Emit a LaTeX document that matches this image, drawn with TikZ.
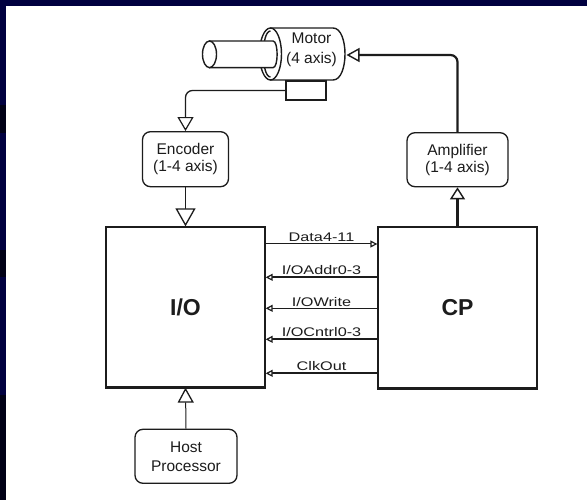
\documentclass[tikz,border=0pt]{standalone}
\usepackage{fontspec}
\setmainfont{Liberation Sans}
\newfontfamily\sigfont[FakeStretch=1.3]{Liberation Sans}
\usetikzlibrary{arrows.meta}

\definecolor{slidenavy}{RGB}{0,0,64}
\definecolor{slidedark}{RGB}{0,0,22}
\definecolor{ink}{RGB}{28,28,28}

\tikzset{
  unit/.style={draw=ink, line width=1.3pt, fill=white, inner sep=0pt,
               minimum width=159pt, minimum height=160pt,
               font=\fontsize{23}{26}\selectfont\bfseries, text=ink},
  roundbox/.style={draw=ink, line width=1.3pt, fill=white, rounded corners=8pt,
               inner sep=0pt, align=center, text=ink,
               font=\fontsize{15.5}{17}\selectfont},
  part/.style={draw=ink, line width=1.4pt, fill=white},
  thinwire/.style={draw=ink, line width=1pt},
  thickwire/.style={draw=ink, line width=2.2pt},
  bigtip/.style={-{Triangle[open, fill=white, length=#1]}},
  sigtip/.style={-{Triangle[open, fill=white, length=7pt, width=7pt, line width=1.2pt]}},
  siglabel/.style={midway, above, inner sep=1.5pt, text=ink,
               font=\sigfont\fontsize{12.5}{14}\selectfont}
}

\begin{document}
\begin{tikzpicture}[x=1pt, y=-1pt]
  % slide frame
  \useasboundingbox (0,0) rectangle (587,500);
  \fill[white] (0,0) rectangle (587,500);
  \fill[slidenavy] (0,0) rectangle (587,6);
  \fill[slidenavy] (0,0) rectangle (6,500);
  \fill[slidedark] (0,105) rectangle (6,133);
  \fill[slidedark] (0,250) rectangle (6,277);
  \fill[slidedark] (0,395) rectangle (6,500);

  % motor body, front face and shaft
  \filldraw[part] (270.5,28) -- (333,28)
     .. controls (349,28) and (349,80) .. (333,80) -- (270.5,80) -- cycle;
  \filldraw[part] (270.5,54) ellipse [x radius=11, y radius=26];
  \draw[part, fill=none] (270.5,31) .. controls (261,31) and (261,77) .. (270.5,77);
  \filldraw[part] (209.5,41) -- (273,41)
     .. controls (278.5,41) and (278.5,67.7) .. (273,67.7) -- (209.5,67.7) -- cycle;
  \filldraw[part] (209.5,54.3) ellipse [x radius=7, y radius=13.3];
  \node[text=ink, align=center, inner sep=0pt,
        font=\fontsize{15.5}{20}\selectfont] (motor) at (311.5,50) {Motor\\(4 axis)};
  \coordinate (motorin) at (346.5,55);

  % encoder sensor on the motor
  \node[part, minimum width=40pt, minimum height=19pt, inner sep=0pt] (sensor) at (306,90.5) {};

  % blocks
  \node[unit] (io) at (185.5,307) {I/O};
  \node[unit, minimum height=161pt] (cp) at (457.5,307.5) {CP};
  \node[roundbox, minimum width=86pt, minimum height=55pt] (enc) at (185.5,159.2) {Encoder\\(1-4 axis)};
  \node[roundbox, minimum width=101pt, minimum height=54pt] (amp) at (457.5,159.7) {Amplifier\\(1-4 axis)};
  \node[roundbox, minimum width=102pt, minimum height=54pt, font=\fontsize{15.5}{19}\selectfont] (host) at (186,456.3) {Host\\Processor};

  % feedback and drive paths
  \draw[thinwire, line width=1.3pt, rounded corners=7pt,
        -{Triangle[open, fill=white, length=14pt, width=16pt, line width=1.2pt]}]
        (sensor.west) -| (enc.north);
  \draw[thickwire, rounded corners=7pt,
        -{Triangle[open, fill=white, length=13pt, width=14pt, line width=1.4pt]}]
        (amp.north) |- (motorin);
  \draw[thickwire,
        -{Triangle[open, fill=white, length=12pt, width=15pt, line width=1.4pt]}]
        (cp.north) -- (amp.south);
  \draw[thinwire,
        -{Triangle[open, fill=white, length=18pt, width=20pt, line width=1.3pt]}]
        (enc.south) -- (io.north);
  \draw[thinwire,
        -{Triangle[open, fill=white, length=15pt, width=16pt, line width=1.3pt]}]
        (host.north) -- (io.south);

  % bus signals between I/O and CP
  \coordinate (ydata) at (0,244);
  \coordinate (yaddr) at (0,277.3);
  \coordinate (ywrite) at (0,308.3);
  \coordinate (ycntrl) at (0,339.3);
  \coordinate (yclk) at (0,373.3);
  \draw[thinwire, sigtip] (io.east |- ydata) -- (cp.west |- ydata)
        node[siglabel] (ldata) {Data4-11};
  \draw[thickwire, sigtip] (cp.west |- yaddr) -- (io.east |- yaddr)
        node[siglabel] (laddr) {I/OAddr0-3};
  \draw[thinwire, sigtip] (cp.west |- ywrite) -- (io.east |- ywrite)
        node[siglabel] (lwrite) {I/OWrite};
  \draw[thickwire, sigtip] (cp.west |- ycntrl) -- (io.east |- ycntrl)
        node[siglabel] (lcntrl) {I/OCntrl0-3};
  \draw[thickwire, sigtip] (cp.west |- yclk) -- (io.east |- yclk)
        node[siglabel] (lclk) {ClkOut};

  % heavier lower edges of the two blocks
  \draw[ink, line width=2.2pt] (io.south west) -- (io.south east);
  \draw[ink, line width=2.2pt] (cp.south west) -- (cp.south east);
\end{tikzpicture}
\end{document}
